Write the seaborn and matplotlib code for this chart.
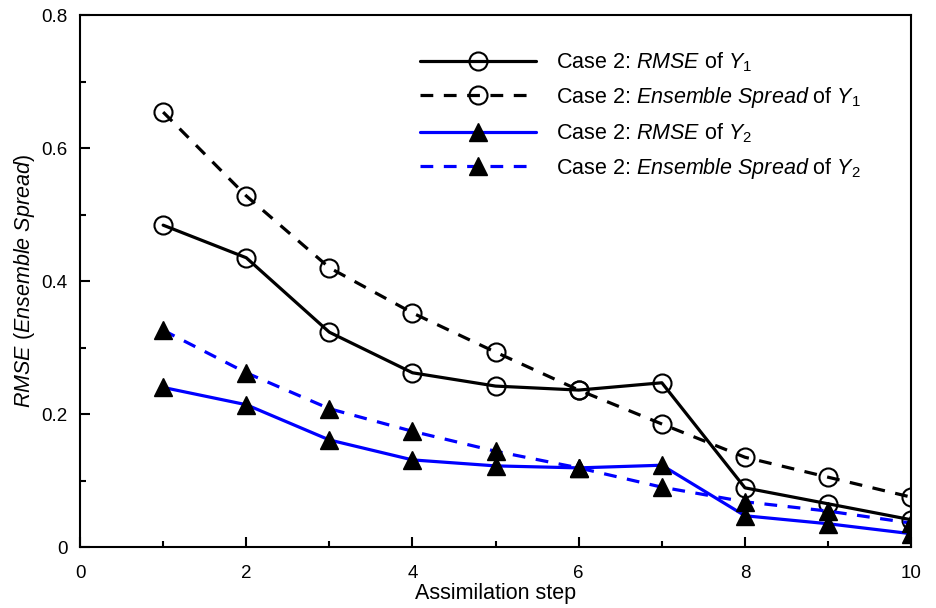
import matplotlib
matplotlib.use("Agg")
import matplotlib.pyplot as plt
import seaborn as sns
import pandas as pd
from matplotlib.ticker import MultipleLocator, FuncFormatter

# Assimilation steps and the four error curves
steps = [1, 2, 3, 4, 5, 6, 7, 8, 9, 10]
rmse_y1 = [0.484, 0.435, 0.323, 0.262, 0.242, 0.236, 0.247, 0.089, 0.065, 0.041]
spread_y1 = [0.654, 0.528, 0.420, 0.352, 0.293, 0.236, 0.185, 0.135, 0.105, 0.075]
rmse_y2 = [0.240, 0.214, 0.161, 0.131, 0.122, 0.119, 0.123, 0.047, 0.035, 0.020]
spread_y2 = [0.326, 0.262, 0.208, 0.174, 0.144, 0.119, 0.090, 0.068, 0.054, 0.036]

labels = [
    r"Case 2: $\mathit{RMSE}$ of $\mathit{Y}_{1}$",
    r"Case 2: $\mathit{Ensemble\ Spread}$ of $\mathit{Y}_{1}$",
    r"Case 2: $\mathit{RMSE}$ of $\mathit{Y}_{2}$",
    r"Case 2: $\mathit{Ensemble\ Spread}$ of $\mathit{Y}_{2}$",
]

sns.set_style("ticks")
plt.rcParams["font.family"] = ["Liberation Sans", "DejaVu Sans"]
plt.rcParams["mathtext.fontset"] = "custom"
plt.rcParams["mathtext.rm"] = "Liberation Sans"
plt.rcParams["mathtext.it"] = "Liberation Sans:italic"
plt.rcParams["mathtext.bf"] = "Liberation Sans:bold"
plt.rcParams["text.color"] = "black"
plt.rcParams["axes.labelcolor"] = "black"
plt.rcParams["xtick.color"] = "black"
plt.rcParams["ytick.color"] = "black"
plt.rcParams["axes.edgecolor"] = "black"

fig = plt.figure(figsize=(9.36, 6.08), dpi=100)
ax = fig.add_axes([0.0855, 0.1003, 0.888, 0.875])

dash = (0, (4, 3.3))
styles = [
    (rmse_y1, "black", "-", "o", "none"),
    (spread_y1, "black", dash, "o", "none"),
    (rmse_y2, "#0000ff", "-", "^", "black"),
    (spread_y2, "#0000ff", dash, "^", "black"),
]

for (vals, col, ls, mk, mfc), lab in zip(styles, labels):
    df = pd.DataFrame({"step": steps, "value": vals})
    sns.lineplot(
        data=df, x="step", y="value", ax=ax, color=col, linestyle=ls,
        linewidth=2.3, marker=mk, markersize=13 if mk == "o" else 12.5,
        markerfacecolor=mfc, markeredgecolor="black",
        markeredgewidth=1.5 if mk == "o" else 1.0, label=lab,
    )

ax.set_xlim(0, 10)
ax.set_ylim(0, 0.8)
ax.xaxis.set_major_locator(MultipleLocator(2))
ax.xaxis.set_minor_locator(MultipleLocator(1))
ax.yaxis.set_major_locator(MultipleLocator(0.2))
ax.yaxis.set_minor_locator(MultipleLocator(0.1))
ax.yaxis.set_major_formatter(FuncFormatter(lambda v, p: "0" if abs(v) < 1e-9 else f"{v:.1f}"))
ax.xaxis.set_major_formatter(FuncFormatter(lambda v, p: f"{int(round(v))}"))

ax.tick_params(which="both", direction="in", top=False, right=False,
               labelsize=13.5, width=1.5)
ax.tick_params(which="major", length=7)
ax.tick_params(which="minor", length=4.5)
ax.tick_params(axis="x", which="major", pad=13)
ax.tick_params(axis="y", which="major", pad=9)
for sp in ax.spines.values():
    sp.set_linewidth(1.5)
    sp.set_visible(True)

ax.set_xlabel("Assimilation step", fontsize=15.5, labelpad=1)
ax.set_ylabel(r"$\mathit{RMSE}$ ($\mathit{Ensemble\ Spread}$)", fontsize=15.5, labelpad=3)

ax.legend(loc="upper left", bbox_to_anchor=(0.409, 0.934), frameon=False,
          fontsize=15.5, handlelength=5.4, numpoints=1, labelspacing=0.52,
          borderpad=0, handletextpad=0.9, borderaxespad=0)

fig.savefig("out.png", dpi=100)
